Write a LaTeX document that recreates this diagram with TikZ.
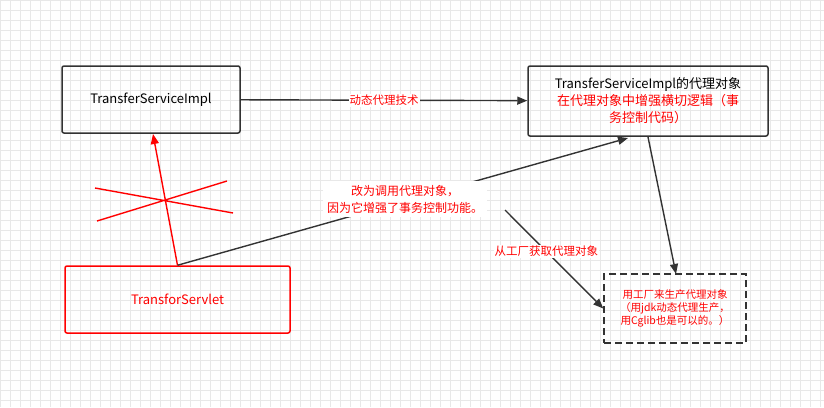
\documentclass[tikz,border=0pt]{standalone}
\usepackage{fontspec}
\setmainfont{Noto Sans CJK SC}
\usetikzlibrary{arrows.meta}
\definecolor{rd}{RGB}{255,0,0}
\definecolor{dk}{RGB}{51,51,51}
\definecolor{gr}{RGB}{232,232,232}
\begin{document}
\begin{tikzpicture}[x=1pt,y=-1pt,
 box/.style={draw=dk,line width=1.5pt,rounded corners=2pt,align=center,inner sep=0pt},
 arr/.style={draw=dk,line width=1.4pt,-{Triangle[length=10pt,width=8pt]}},
 lab/.style={fill=white,text=rd,font=\fontsize{11.5}{14}\selectfont,inner sep=1pt,align=center}]
\useasboundingbox (0,0) rectangle (824,407);
\foreach \x in {0,10,...,820} \draw[gr,line width=0.8pt] (\x,0) -- (\x,407);
\foreach \y in {0,10,...,400} \draw[gr,line width=0.8pt] (0,\y) -- (824,\y);
\node[box,minimum width=178,minimum height=67,font=\fontsize{13}{16}\selectfont] (impl) at (151,99.5) {TransferServiceImpl};
\node[box,minimum width=240,minimum height=70,font=\fontsize{13}{17}\selectfont] (proxy) at (648,101) {TransferServiceImpl的代理对象\\\textcolor{rd}{在代理对象中增强横切逻辑（事}\\\textcolor{rd}{务控制代码）}};
\node[box,draw=rd,minimum width=225,minimum height=67,text=rd,font=\fontsize{13}{16}\selectfont] (serv) at (177.5,299.5) {TransforServlet};
\node[box,dashed,dash pattern=on 7pt off 4pt,rounded corners=0pt,minimum width=142,minimum height=69,text=rd,font=\fontsize{10.5}{13}\selectfont] (fac) at (675,308.5) {用工厂来生产代理对象\\（用jdk动态代理生产，\\用Cglib也是可以的。）};
\draw[arr] (impl) -- node[lab]{动态代理技术} (proxy);
\draw[draw=rd,line width=1.4pt,-{Triangle[length=10pt,width=8pt]}] (serv.north) -- (153,134) coordinate (t);
\draw[rd,line width=1.4pt] (95,188) -- (233,213) (97,221) -- (227,181);
\draw[arr] (serv.north) -- (628,138);
\node[lab,font=\fontsize{12}{17}\selectfont,inner sep=4pt] (note) at (405,199) {改为调用代理对象，\\因为它增强了事务控制功能。};
\coordinate (s) at (505,210);
\draw[arr] (s) -- node[lab,pos=0.42]{从工厂获取代理对象} (fac.west);
\draw[arr] (648,137) -- (676,274);
\end{tikzpicture}
\end{document}
